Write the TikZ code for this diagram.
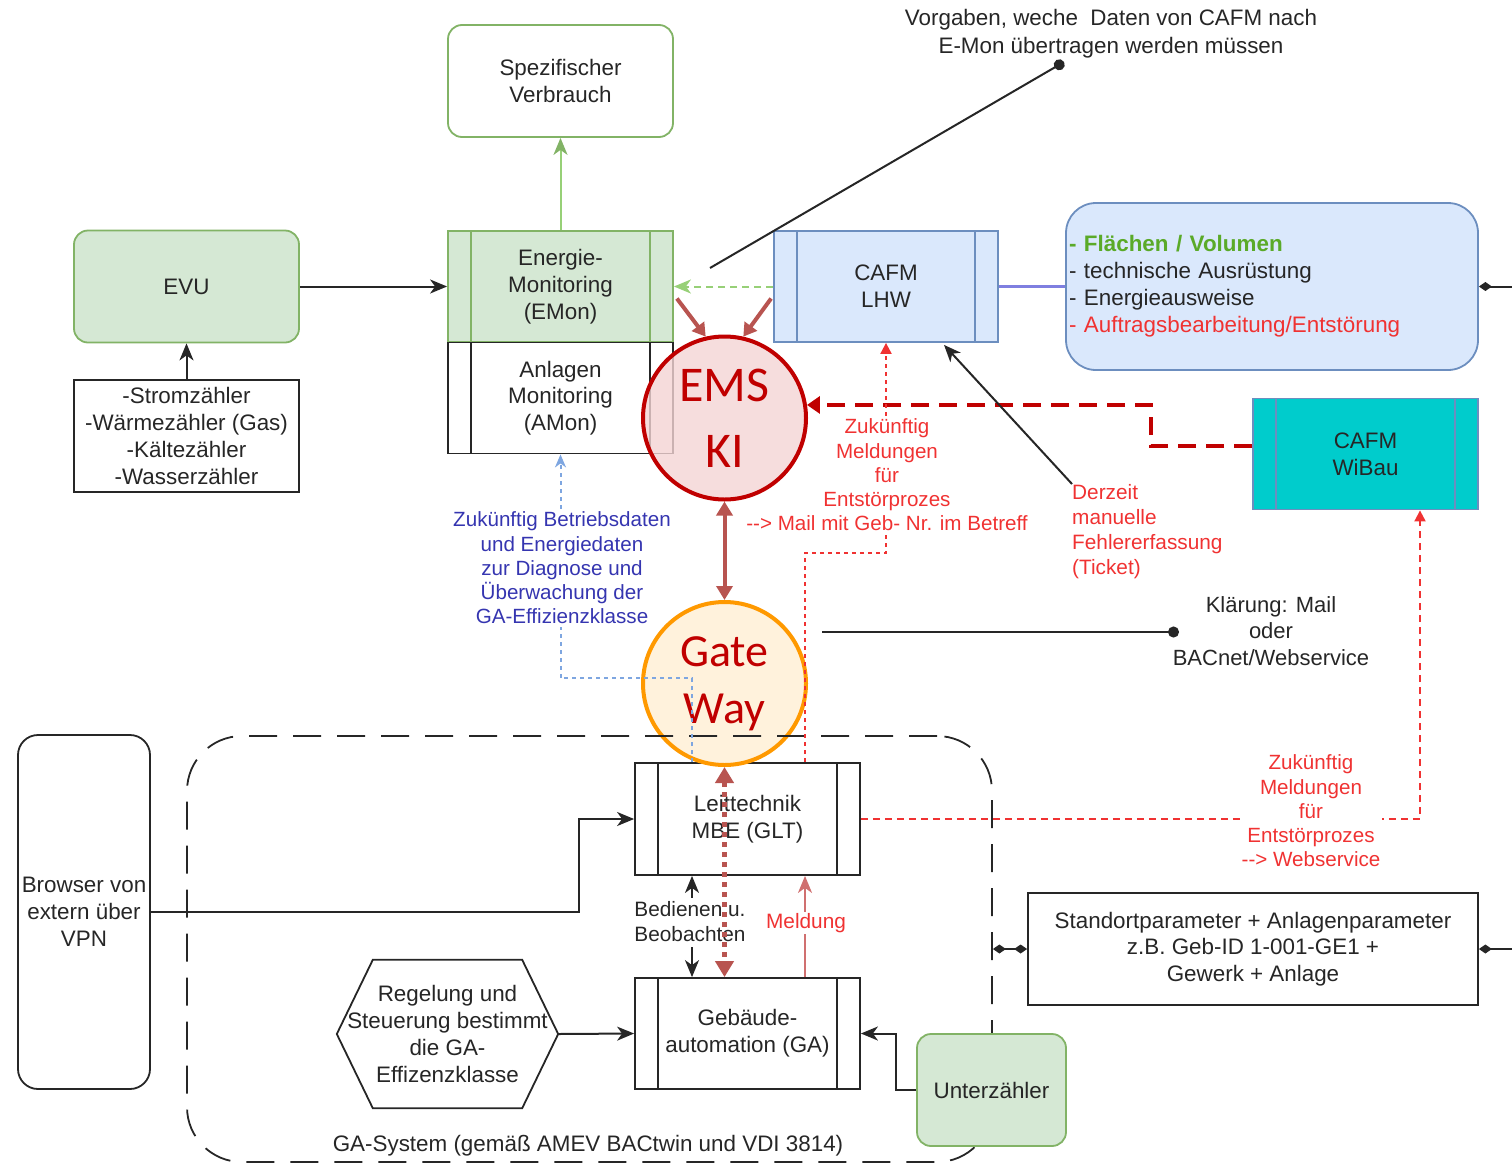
\documentclass[tikz,border=0pt]{standalone}
\usepackage{fontspec}
\setmainfont{Liberation Sans}
\newfontfamily\calfont{Carlito}
\usetikzlibrary{arrows.meta,calc,shapes.geometric}
\definecolor{gfill}{HTML}{D5E8D4}
\definecolor{gdraw}{HTML}{82B366}
\definecolor{lgreen}{HTML}{97D077}
\definecolor{bfill}{HTML}{DAE8FC}
\definecolor{bdraw}{HTML}{6C8EBF}
\definecolor{emsfill}{HTML}{F4D4D4}
\definecolor{emsdraw}{HTML}{C00000}
\definecolor{gwfill}{HTML}{FFF2DC}
\definecolor{gwdraw}{HTML}{FF9900}
\definecolor{brn}{HTML}{B85450}
\definecolor{meldc}{HTML}{D07070}
\definecolor{rtxt}{HTML}{F03232}
\definecolor{btxt}{HTML}{3535B0}
\definecolor{bline}{HTML}{7EA6E0}
\definecolor{gtxt}{HTML}{5AAA28}
\definecolor{cyanf}{HTML}{00CCCC}
\definecolor{txt}{HTML}{262626}
\definecolor{purp}{HTML}{7F7FE0}
\tikzset{
  base/.style={font=\fontsize{22.4}{26.8}\selectfont, text=txt, align=center, inner sep=0pt},
  small/.style={font=\fontsize{20.6}{24.2}\selectfont},
  proc/.style={draw=#1, line width=1.8pt, minimum width=225pt, minimum height=111pt,
    path picture={\draw[#1, line width=1.8pt]
      ([xshift=23pt]path picture bounding box.north west) -- ([xshift=23pt]path picture bounding box.south west)
      ([xshift=-23pt]path picture bounding box.north east) -- ([xshift=-23pt]path picture bounding box.south east);}},
  rbox/.style={draw=#1, line width=1.8pt, rounded corners=14pt, minimum width=225pt, minimum height=112pt},
  plainbox/.style={draw=txt, line width=1.8pt},
  arr/.style={draw=txt, line width=2pt, -{Stealth[length=17pt,width=14pt,inset=5pt]}},
  garr/.style={draw=lgreen, line width=2pt, -{Stealth[length=17pt,width=14pt,inset=5pt,color=gdraw]}},
  gdarr/.style={draw=lgreen, line width=2pt, dash pattern=on 7pt off 5pt, -{Stealth[length=17pt,width=14pt,inset=5pt]}},
  brnarr/.style={draw=brn, line width=4pt, -{Triangle[length=13pt,width=15pt]}},
  rdot/.style={draw=rtxt, line width=2pt, dash pattern=on 4pt off 4pt},
  rdash/.style={draw=rtxt, line width=1.9pt, dash pattern=on 7pt off 5pt},
  bdot/.style={draw=bline, line width=2pt, dash pattern=on 4pt off 4pt},
  dline/.style={draw=txt, line width=2pt},
  dia/.tip={Diamond[length=13pt,width=9pt]}
}
\begin{document}
\begin{tikzpicture}[x=1pt,y=-1pt, every node/.style={base}]
\useasboundingbox (0,0) rectangle (1512,1165);

% --- boxes top ---
\node[rbox=gdraw, fill=white] (spez) at (560.5,81) {Spezifischer\\Verbrauch};
\node[proc=gdraw, fill=gfill] (emon) at (560.5,286.5) {Energie-\\Monitoring\\(EMon)};
\node[proc=txt, fill=white] (amon) at (560.5,398) {Anlagen\\Monitoring\\(AMon)};
\node[rbox=gdraw, fill=gfill] (evu) at (186.5,286.5) {EVU};
\node[plainbox, minimum width=225pt, minimum height=112pt] (meter) at (186.5,436)
  {-Stromzähler\\-Wärmezähler (Gas)\\-Kältezähler\\-Wasserzähler};
\node[proc=bdraw, fill=bfill, minimum width=224pt] (lhw) at (886,286.5) {CAFM\\LHW};
\node[draw=bdraw, fill=bfill, line width=1.8pt, rounded corners=30pt, minimum width=412pt,
  minimum height=167pt, text width=406pt, align=left, font=\fontsize{22.4}{27}\selectfont] (flae) at (1272,286.5)
  {\textcolor{gtxt}{\textbf{- Flächen / Volumen}}\\- technische Ausrüstung\\- Energieausweise\\\textcolor{rtxt}{- Auftragsbearbeitung/Entstörung}};
\node[proc=bdraw, fill=cyanf] (wibau) at (1365.5,454) {CAFM\\WiBau};

% --- lower boxes ---
\node[proc=txt, fill=white, minimum height=112pt] (glt) at (747.5,819) {Leittechnik\\MBE (GLT)};
\node[proc=txt, fill=white] (ga) at (747.5,1033.5) {Gebäude-\\automation (GA)};
\node[minimum width=221pt, minimum height=148pt] (hex) at (447.5,1034)
  {Regelung und\\Steuerung bestimmt\\die GA-\\Effizenzklasse};
\draw[line width=1.8pt, draw=txt] (hex.west) -- ($(hex.north west)+(36,0)$) -- ($(hex.north east)+(-36,0)$)
  -- (hex.east) -- ($(hex.south east)+(-36,0)$) -- ($(hex.south west)+(36,0)$) -- cycle;
\node[plainbox, rounded corners=20pt, minimum width=132pt, minimum height=354pt] (browser) at (84,912)
  {Browser von\\extern über\\VPN};
\node[plainbox, minimum width=450pt, minimum height=112pt] (std) at (1253,949)
  {Standortparameter + Anlagenparameter\\z.B. Geb-ID 1-001-GE1 +\\Gewerk + Anlage};

% --- circles ---
\node[circle, draw=gwdraw, line width=4pt, fill=gwfill, minimum size=163pt, text=emsdraw,
  font=\calfont\fontsize{46}{57}\selectfont] (gw) at (724.5,683.5) {Gate\\Way};
\node[circle, draw=emsdraw, line width=4pt, fill=emsfill, fill opacity=0.8, text opacity=1,
  minimum size=163pt, text=emsdraw, font=\calfont\fontsize{50}{66}\selectfont] (ems) at (724.5,418) {EMS\\KI};

% --- GA system frame ---
\node[draw=txt, line width=1.8pt, dash pattern=on 28pt off 16pt, rounded corners=55pt,
  minimum width=805pt, minimum height=426pt] (gasys) at (589.5,949) {};
\node (galab) at (588,1146) {GA-System (gemäß AMEV BACtwin und VDI 3814)};
\node[rbox=gdraw, fill=gfill, minimum width=149pt, minimum height=112pt] (unter) at (991.5,1090) {Unterzähler};

% --- text labels ---
\node[font=\fontsize{22.4}{28}\selectfont] (vorg) at (1111,34) {Vorgaben, weche~ Daten von CAFM nach\\E-Mon übertragen werden müssen};
\node[small, text=btxt] (btext) at (562,568)
  {Zukünftig Betriebsdaten\\und Energiedaten\\zur Diagnose und\\Überwachung der\\GA-Effizienzklasse};
\node[small, text=rtxt] (rtext) at (887,475)
  {Zukünftig\\Meldungen\\für\\Entstörprozes\\-{}-{}> Mail mit Geb- Nr. im Betreff};
\node[small, text=rtxt, anchor=north west, align=left, font=\fontsize{20.8}{25}\selectfont] (derz) at (1072,484)
  {Derzeit\\manuelle\\Fehlererfassung\\(Ticket)};
\node[font=\fontsize{22}{26.5}\selectfont] (klaer) at (1271,631) {Klärung: Mail\\oder\\BACnet/Webservice};
\node[font=\fontsize{20.8}{25}\selectfont] (bedien) at (690,922) {Bedienen u.\\Beobachten};

% --- free coordinates ---
\coordinate (vstart) at (710,268);
\coordinate (vdot) at (1064,62);
\coordinate (kl1) at (822,632);
\coordinate (kl2) at (1179,632);
\coordinate (redge1) at (1512,286.5);
\coordinate (redge2) at (1512,949);

% --- connectors ---
\draw[arr] (meter) -- (evu);
\draw[arr] (evu) -- (emon);
\draw[garr] (emon) -- (spez);
\draw[gdarr] (lhw) -- (emon);
\draw[draw=purp, line width=2.2pt] (lhw) -- (flae);
\draw[dline, {dia}-] (flae.east) -- (redge1);
\draw[dline, -{Circle[length=11pt]}] (vstart) -- (vdot);
\draw[brnarr] ($(emon.east)+(3,12)$) -- (ems.103);
\draw[brnarr] ($(lhw.west)+(-2,12)$) -- (ems.77);
\draw[draw=brn, line width=4pt, {Triangle[length=14pt,width=16pt]}-{Triangle[length=14pt,width=16pt]}] (ems) -- (gw);
\draw[draw=emsdraw, line width=4.5pt, dash pattern=on 18pt off 10pt, -{Triangle[length=13pt,width=17pt]}]
  ($(wibau.west)+(0,-8)$) -| ($(ems.9)+(344,0)$) -- (ems.9);
% red dotted: GLT -> CAFM LHW, interrupted by its label
\draw[rdot] ($(glt.north)+(57.5,0)$) |- ($(lhw.south)+(0,210)$) -- ([yshift=-3pt]rtext.south -| lhw.south);
\draw[rdot, -{Triangle[length=11pt,width=11pt]}] ([yshift=3pt]rtext.north -| lhw.south) -- (lhw.south);
% blue dotted: GLT -> AMon, interrupted by its label
\draw[bdot] ($(glt.north)+(-55.5,0)$) |- ($(amon.south)+(0,224)$) -- ([yshift=-3pt]btext.south -| amon.south);
\draw[bdot, -{Stealth[length=13pt,width=11pt,inset=4pt]}] ([yshift=3pt]btext.north -| amon.south) -- (amon.south);
\draw[dline, -{Circle[length=11pt]}] (kl1) -- (kl2);
\draw[arr] (derz.north west) -- ($(lhw.south)+(58,2)$);
\draw[arr] (browser.east) -| ($(glt.west)+(-55,0)$) -- (glt.west);
\draw[arr] (hex.east) -- (ga.west);
\draw[arr] ($(glt.south)+(-55.5,22)$) -- ($(glt.south)+(-55.5,0)$);
\draw[arr] ($(ga.north)+(-55.5,-30)$) -- ($(ga.north)+(-55.5,0)$);
\draw[draw=brn, line width=5pt, dash pattern=on 5pt off 5pt,
  {Triangle[length=16pt,width=18pt]}-{Triangle[length=16pt,width=18pt]}] (gw.south) -- (gw.south |- ga.north);
\draw[draw=meldc, line width=2pt, -{Stealth[length=17pt,width=14pt,inset=5pt]}] ($(ga.north)+(57.5,0)$) -- ($(glt.south)+(57.5,0)$);
\draw[rdash, -{Triangle[length=11pt,width=11pt]}] (glt.east) -| ($(wibau.south)+(54.5,0)$);
\draw[arr] (unter.west) -- ++(-20,0) |- (ga.east);
\draw[dline, {dia}-{dia}] (gasys.east |- std.west) -- (std.west);
\draw[dline, {dia}-] (std.east) -- (redge2);

% --- labels on lines ---
\node[small, text=rtxt, fill=white, inner sep=2pt] (zk2) at (1311,811)
  {Zukünftig\\Meldungen\\für\\Entstörprozes\\-{}-{}> Webservice};
\node[small, font=\fontsize{20.8}{24}\selectfont, text=rtxt, fill=white, inner sep=1pt] (meld) at (806,923) {Meldung};
\end{tikzpicture}
\end{document}
